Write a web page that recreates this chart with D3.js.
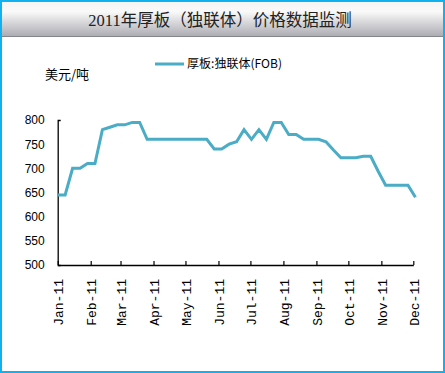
<!DOCTYPE html>
<html>
<head>
<meta charset="utf-8">
<script src="https://d3js.org/d3.v7.min.js"></script>
<style>
  html, body { margin: 0; padding: 0; background: #fff; }
</style>
</head>
<body>
<svg id="chart"></svg>
<script>
W = 445;
H = 373;
PLOT = { left: 57.7, right: 413.3, top: 120, bottom: 265 };

// weekly prices, counted in days from 2011-01-01
var weekDays = [0, 7, 14, 21, 28, 35, 42, 49, 56, 63, 70, 77, 84, 91, 98, 105, 112, 119, 126, 133, 140,
                147, 154, 161, 168, 175, 182, 189, 196, 203, 210, 217, 224, 231, 238, 245, 252, 259, 266,
                273, 280, 287, 294, 301, 308, 315, 322, 329, 336];
var prices = [645, 645, 700, 700, 710, 710, 780, 785, 790, 790, 795, 795, 760, 760, 760, 760, 760, 760, 760, 760, 760,
              740, 740, 750, 755, 780, 760, 780, 760, 795, 795, 770, 770, 760, 760, 760, 755, 738, 722,
              722, 722, 725, 725, 694, 665, 665, 665, 665, 640];
var monthTicks = ["2011-01-01", "2011-02-01", "2011-03-01", "2011-04-01", "2011-05-01", "2011-06-01",
                  "2011-07-01", "2011-08-01", "2011-09-01", "2011-10-01", "2011-11-01", "2011-12-01"];
var yTicks = [500, 550, 600, 650, 700, 750, 800];
var seriesName = "厚板:独联体(FOB)";
var titleText = "2011年厚板（独联体）价格数据监测";
var unitText = "美元/吨";

function buildChart() {
    var svg = d3.select("#chart").attr("width", W).attr("height", H);
    var parse = d3.utcParse("%Y-%m-%d");
    var start = parse("2011-01-01");
    var fmt = d3.utcFormat("%b-%y");

    var data = weekDays.map(function(d, i) {
        return { date: d3.utcDay.offset(start, d), value: prices[i] };
    });

    var defs = svg.append("defs");
    var grad = defs.append("linearGradient")
        .attr("id", "titleGrad")
        .attr("x1", 0).attr("y1", 0).attr("x2", 0).attr("y2", 1);
    grad.append("stop").attr("offset", "0%").attr("stop-color", "#f4f4f4");
    grad.append("stop").attr("offset", "30%").attr("stop-color", "#f9f9f9");
    grad.append("stop").attr("offset", "100%").attr("stop-color", "#a9a9b1");

    svg.append("rect").attr("width", W).attr("height", H).attr("fill", "#fff");

    // title bar
    svg.append("rect")
        .attr("x", 1).attr("y", 1).attr("width", W - 2).attr("height", 36)
        .attr("fill", "url(#titleGrad)");
    svg.append("line")
        .attr("x1", 1).attr("x2", W - 1).attr("y1", 36.5).attr("y2", 36.5)
        .attr("stroke", "#85858d").attr("stroke-width", 1.2);
    svg.append("text")
        .attr("x", 220).attr("y", 20)
        .attr("dy", "0.35em")
        .attr("text-anchor", "middle")
        .attr("font-family", "'Liberation Serif', 'Noto Sans CJK SC', serif")
        .attr("font-size", 16.5)
        .attr("fill", "#222")
        .text(titleText);

    // outer frame
    svg.append("rect")
        .attr("x", 1).attr("y", 1).attr("width", W - 2).attr("height", H - 2)
        .attr("fill", "none").attr("stroke", "#0fb2ef").attr("stroke-width", 2);

    var x = d3.scaleUtc()
        .domain([parse(monthTicks[0]), parse(monthTicks[monthTicks.length - 1])])
        .range([PLOT.left, PLOT.right]);
    var y = d3.scaleLinear()
        .domain([500, 800])
        .range([PLOT.bottom, PLOT.top]);

    // y axis
    var yAxis = svg.append("g")
        .attr("transform", "translate(" + PLOT.left + ",0)")
        .call(d3.axisLeft(y).tickValues(yTicks).tickSizeInner(0).tickSizeOuter(-3).tickPadding(13));
    yAxis.select(".domain").attr("stroke", "#000").attr("stroke-width", 1.3);
    yAxis.selectAll("text")
        .attr("font-family", "'Liberation Sans', Arial, sans-serif")
        .attr("font-size", 12)
        .attr("fill", "#000");

    // x axis
    var xAxis = svg.append("g")
        .attr("transform", "translate(0," + PLOT.bottom + ")")
        .call(d3.axisBottom(x).tickValues(monthTicks.map(parse)).tickFormat(fmt)
              .tickSizeInner(-4).tickSizeOuter(0));
    xAxis.select(".domain").attr("stroke", "#000").attr("stroke-width", 1.3);
    xAxis.selectAll("line").attr("stroke", "#000").attr("stroke-width", 1.2);
    xAxis.selectAll("text")
        .attr("font-family", "'Liberation Mono', 'Courier New', monospace")
        .attr("font-size", 13)
        .attr("fill", "#000")
        .attr("text-anchor", "end")
        .attr("transform", "translate(0.5,14) rotate(-90)")
        .attr("x", 0).attr("y", 0).attr("dy", "0.35em");

    // line
    var line = d3.line()
        .x(function(d) { return x(d.date); })
        .y(function(d) { return y(d.value); });
    svg.append("path")
        .datum(data)
        .attr("fill", "none")
        .attr("stroke", "#4bacc6")
        .attr("stroke-width", 3)
        .attr("stroke-linejoin", "miter")
        .attr("d", line);

    // legend
    svg.append("line")
        .attr("x1", 155).attr("x2", 184).attr("y1", 64).attr("y2", 64)
        .attr("stroke", "#4bacc6").attr("stroke-width", 3);
    svg.append("text")
        .attr("x", 187).attr("y", 64).attr("dy", "0.35em")
        .attr("font-family", "'Noto Sans CJK SC', sans-serif")
        .attr("font-size", 12)
        .attr("textLength", 95)
        .attr("lengthAdjust", "spacingAndGlyphs")
        .attr("fill", "#000")
        .text(seriesName);

    // unit label
    svg.append("text")
        .attr("x", 45).attr("y", 74).attr("dy", "0.35em")
        .attr("font-family", "'Noto Sans CJK SC', sans-serif")
        .attr("font-size", 13)
        .attr("fill", "#000")
        .text(unitText);
}

buildChart();
</script>
</body>
</html>
